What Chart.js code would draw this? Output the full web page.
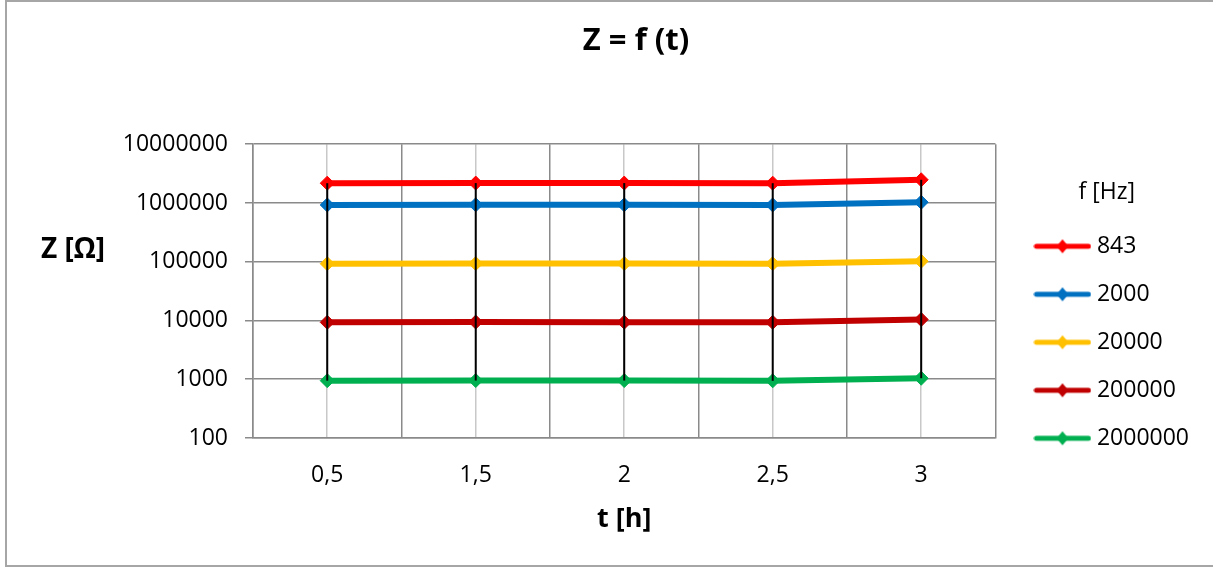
<!DOCTYPE html>
<html>
<head>
<meta charset="utf-8">
<script src="https://cdn.jsdelivr.net/npm/chart.js@4"></script>
<style>
  body { margin: 0; background: #fff; }
  canvas { display: block; }
</style>
</head>
<body>
<canvas id="zChart" width="1213" height="568"></canvas>
<script>
const categories = ['0,5', '1,5', '2', '2,5', '3'];
const seriesNames = ['843', '2000', '20000', '200000', '2000000'];
const seriesColors = ['#FF0000', '#0070C0', '#FFC000', '#C00000', '#00B050'];

const z843 = [2170000, 2180000, 2180000, 2170000, 2480000];
const z2000 = [925000, 930000, 930000, 925000, 1030000];
const z20000 = [92500, 93000, 93000, 92500, 102000];
const z200000 = [9300, 9400, 9350, 9300, 10400];
const z2000000 = [946, 950, 950, 940, 1040];

const yTicks = [100, 1000, 10000, 100000, 1000000, 10000000];

const FONT = '"Open Sans", "Noto Sans", sans-serif';
const GRID = '#8a8a8a';

// line + diamond icon for legend
function legendIcon(color) {
    const c = document.createElement('canvas');
    c.width = 58;
    c.height = 16;
    const g = c.getContext('2d');
    g.strokeStyle = color;
    g.lineWidth = 5;
    g.lineCap = 'round';
    g.beginPath();
    g.moveTo(3, 8);
    g.lineTo(55, 8);
    g.stroke();
    g.fillStyle = color;
    g.beginPath();
    g.moveTo(29, 1);
    g.lineTo(35, 8);
    g.lineTo(29, 15);
    g.lineTo(23, 8);
    g.closePath();
    g.fill();
    return c;
}
const icons = seriesColors.map(legendIcon);

const allSeries = [z843, z2000, z20000, z200000, z2000000];
const datasets = allSeries.map((vals, i) => ({
    label: seriesNames[i],
    data: vals,
    borderColor: seriesColors[i],
    backgroundColor: seriesColors[i],
    borderWidth: 6,
    pointStyle: 'rectRot',
    pointRadius: 7,
    pointBorderWidth: 1,
    tension: 0
}));

// black high-low lines between the lowest and highest value of each category
const highLowLines = {
    id: 'highLowLines',
    afterDatasetsDraw(chart) {
        const ctx = chart.ctx;
        const x = chart.scales.x;
        const y = chart.scales.y;
        ctx.save();
        ctx.strokeStyle = '#000';
        ctx.lineWidth = 2;
        categories.forEach((c, i) => {
            const vals = allSeries.map(s => s[i]);
            const px = x.getPixelForValue(i);
            ctx.beginPath();
            ctx.moveTo(px, y.getPixelForValue(Math.max(...vals)));
            ctx.lineTo(px, y.getPixelForValue(Math.min(...vals)));
            ctx.stroke();
        });
        ctx.restore();
    }
};

// outer frame and the horizontal Z [Ω] title
const frame = {
    id: 'frame',
    beforeDraw(chart) {
        const ctx = chart.ctx;
        ctx.save();
        ctx.fillStyle = '#fff';
        ctx.fillRect(0, 0, chart.width, chart.height);
        ctx.strokeStyle = '#a6a6a6';
        ctx.lineWidth = 2;
        ctx.strokeRect(6, 1, chart.width + 10, chart.height - 3);
        ctx.restore();
    },
    afterDraw(chart) {
        const ctx = chart.ctx;
        ctx.save();
        ctx.font = 'bold 28px ' + FONT;
        ctx.fillStyle = '#000';
        ctx.textAlign = 'center';
        ctx.textBaseline = 'middle';
        ctx.fillText('Z [Ω]', 73, 250);
        ctx.restore();
    }
};

new Chart(document.getElementById('zChart'), {
    type: 'line',
    data: { labels: categories, datasets: datasets },
    plugins: [frame, highLowLines],
    options: {
        responsive: false,
        animation: false,
        layout: { padding: { left: 73, right: 14, top: 0, bottom: 0 } },
        scales: {
            x: {
                type: 'category',
                offset: true,
                grid: { offset: true, color: GRID, lineWidth: 1.5, drawTicks: false },
                border: { color: GRID, width: 1.5 },
                ticks: { color: '#000', font: { family: FONT, size: 23 }, padding: 24 },
                title: {
                    display: true,
                    text: 't [h]',
                    color: '#000',
                    font: { family: FONT, size: 27, weight: 'bold' },
                    padding: { top: 0, bottom: 32 }
                },
                afterFit: s => { s.height = 130; }
            },
            x2: {
                type: 'category',
                position: 'bottom',
                offset: true,
                grid: { offset: false, color: '#c8c8c8', lineWidth: 1.5, drawTicks: false },
                border: { display: false },
                ticks: { display: false },
                afterFit: s => { s.height = 0; }
            },
            y: {
                type: 'logarithmic',
                min: 100,
                max: 10000000,
                afterBuildTicks: s => { s.ticks = yTicks.map(v => ({ value: v })); },
                grid: { color: GRID, lineWidth: 1.5, tickLength: 8 },
                border: { color: GRID, width: 1.5 },
                ticks: {
                    color: '#000',
                    font: { family: FONT, size: 23 },
                    padding: 17,
                    callback: v => String(v)
                },
                afterFit: s => { s.width = 180; }
            },
            yPad: {
                type: 'linear',
                position: 'right',
                grid: { display: false },
                border: { display: false },
                ticks: { display: false },
                afterFit: s => { s.width = 19; }
            }
        },
        plugins: {
            title: {
                display: true,
                text: 'Z = f (t)',
                color: '#000',
                font: { family: FONT, size: 31, weight: 'bold' },
                padding: { top: 23, bottom: 84 }
            },
            legend: {
                position: 'right',
                align: 'center',
                title: {
                    display: true,
                    text: 'f [Hz]',
                    color: '#000',
                    font: { family: FONT, size: 23 },
                    padding: { top: 88, bottom: 1 }
                },
                labels: {
                    color: '#000',
                    font: { family: FONT, size: 23 },
                    usePointStyle: true,
                    pointStyleWidth: 46,
                    padding: 25,
                    generateLabels: chart => Chart.defaults.plugins.legend.labels.generateLabels(chart)
                        .map((item, i) => Object.assign(item, { pointStyle: icons[i] }))
                }
            },
            tooltip: { enabled: false }
        }
    }
});
</script>
</body>
</html>
